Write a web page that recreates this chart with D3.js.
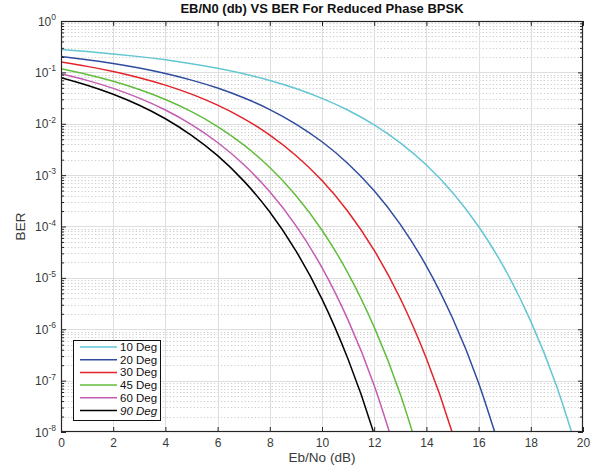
<!DOCTYPE html>
<html><head><meta charset="utf-8">
<script src="https://cdn.jsdelivr.net/npm/d3@7"></script>
<style>
body{margin:0;background:#fff;}
text{font-family:"Liberation Sans",Arial,Helvetica,sans-serif;}
</style></head>
<body><svg id="c" width="602" height="473"></svg>
<script>
// ---- data ----
const ebno = [0,1,2,3,4,5,6,7,8,9,10,11,12,13,14,15,16,17,18,19,20];
const seriesNames = ["10 Deg","20 Deg","30 Deg","45 Deg","60 Deg","90 Deg"];
const seriesColors = ["#62c6d3","#2f4c9e","#e2232a","#62bd3c","#c35cb2","#000000"];
const ber10 = [0.2779,0.2542,0.2291,0.2026,0.1752,0.1473,0.1198,0.0936,0.0694,0.0484,0.0312,0.0183,0.00948,0.00424,0.00157,0.000460,1.0e-4,1.508e-5,1.426e-6,7.51e-8,1.89e-9];
const ber20 = [0.2041,0.1767,0.1489,0.1213,0.0950,0.0707,0.0495,0.0320,0.0189,0.00987,0.00446,0.00167,0.000496,0.000110,1.697e-5,1.651e-6,9.02e-8,2.38e-9];
const ber30 = [0.1587,0.1309,0.1040,0.0789,0.0565,0.0377,0.0230,0.0126,0.00601,0.00241,0.000783,0.000194,3.43e-5,3.97e-6,2.695e-7,9.37e-9,1.40e-10];
const ber45 = [0.1172,0.0911,0.0672,0.0465,0.0297,0.0172,0.00883,0.00388,0.00141,0.000402,8.47e-5,1.224e-5,1.099e-6,5.42e-8,1.26e-9];
const ber60 = [0.0941,0.0698,0.0488,0.0315,0.0185,0.00963,0.00432,0.00161,0.000473,1.04e-4,1.58e-5,1.509e-6,8.05e-8,2.07e-9];
const ber90 = [0.0786,0.0563,0.0375,0.0229,0.0125,0.00595,0.00239,0.000773,0.000191,3.36e-5,3.87e-6,2.61e-7,9.0e-9,1.33e-10];
const seriesValues = [ber10,ber20,ber30,ber45,ber60,ber90];
const xTicks = [0,2,4,6,8,10,12,14,16,18,20];
const yExps = [0,-1,-2,-3,-4,-5,-6,-7,-8];

// ---- layout ----
const L=61, R=583, T=21, B=432;
const svg = d3.select("#c");
const x = d3.scaleLinear().domain([0,20]).range([L,R]);
const y = d3.scaleLog().domain([1e-8,1]).range([B,T]);
const axisColor="#262626";

const minors=[];
for(let e=-8;e<0;e++){for(let m=2;m<=9;m++){minors.push(m*Math.pow(10,e));}}

// grid
const g = svg.append("g");
g.selectAll(".mg").data(minors).enter().append("line")
 .attr("x1",L).attr("x2",R).attr("y1",d=>Math.round(y(d))+0.5).attr("y2",d=>Math.round(y(d))+0.5)
 .attr("stroke","#cccccc").attr("stroke-width",1).attr("stroke-dasharray","1.2,2.2");
g.selectAll(".gx").data(xTicks.slice(1,-1)).enter().append("line")
 .attr("x1",d=>Math.round(x(d))+0.5).attr("x2",d=>Math.round(x(d))+0.5).attr("y1",T).attr("y2",B)
 .attr("stroke","#dedede").attr("stroke-width",1);
g.selectAll(".gy").data(yExps.slice(1,-1)).enter().append("line")
 .attr("x1",L).attr("x2",R).attr("y1",d=>Math.round(y(Math.pow(10,d)))+0.5).attr("y2",d=>Math.round(y(Math.pow(10,d)))+0.5)
 .attr("stroke","#dedede").attr("stroke-width",1);

// curves
svg.append("clipPath").attr("id","clip").append("rect").attr("x",L).attr("y",T).attr("width",R-L).attr("height",B-T);
const line = d3.line().x(d=>x(d[0])).y(d=>y(d[1])).curve(d3.curveNatural);
const cg = svg.append("g").attr("clip-path","url(#clip)");
seriesValues.forEach((vals,i)=>{
  const pts = vals.map((v,j)=>[ebno[j],v]);
  cg.append("path").attr("d",line(pts)).attr("fill","none")
    .attr("stroke",seriesColors[i]).attr("stroke-width",1.5);
});

// axes (ticks inward)
const ax = svg.append("g").attr("color",axisColor);
ax.append("g").attr("transform",`translate(0,${B})`)
  .call(d3.axisBottom(x).tickValues(xTicks).tickSizeInner(-5).tickSizeOuter(0).tickPadding(6).tickFormat(d3.format("d")))
  .call(s=>s.select(".domain").remove());
ax.append("g").attr("transform",`translate(0,${T})`)
  .call(d3.axisTop(x).tickValues(xTicks).tickSizeInner(-5).tickSizeOuter(0).tickFormat(""))
  .call(s=>s.select(".domain").remove());
ax.append("g").attr("transform",`translate(${L},0)`)
  .call(d3.axisLeft(y).tickValues(yExps.map(e=>Math.pow(10,e))).tickSizeInner(-5).tickSizeOuter(0).tickFormat(""))
  .call(s=>s.select(".domain").remove());
ax.append("g").attr("transform",`translate(${R},0)`)
  .call(d3.axisRight(y).tickValues(yExps.map(e=>Math.pow(10,e))).tickSizeInner(-5).tickSizeOuter(0).tickFormat(""))
  .call(s=>s.select(".domain").remove());
ax.append("g").attr("transform",`translate(${L},0)`)
  .call(d3.axisLeft(y).tickValues(minors).tickSizeInner(-3).tickSizeOuter(0).tickFormat(""))
  .call(s=>s.select(".domain").remove());
ax.append("g").attr("transform",`translate(${R},0)`)
  .call(d3.axisRight(y).tickValues(minors).tickSizeInner(-3).tickSizeOuter(0).tickFormat(""))
  .call(s=>s.select(".domain").remove());
ax.selectAll(".tick text").attr("font-size",12).attr("fill","#3a3a3a").attr("font-family","Liberation Sans, Arial, sans-serif");

// y tick labels with superscripts
const ylab = svg.append("g");
yExps.forEach(e=>{
  const t = ylab.append("text").attr("x",L-5).attr("y",y(Math.pow(10,e))+4.5)
    .attr("text-anchor","end").attr("font-size",12).attr("fill","#3a3a3a");
  t.append("tspan").text("10");
  t.append("tspan").attr("dy",-5.5).attr("font-size",8.5).text(String(e));
});

// box
svg.append("rect").attr("x",L+0.5).attr("y",T+0.5).attr("width",R-L-1).attr("height",B-T-1)
  .attr("fill","none").attr("stroke",axisColor).attr("stroke-width",1.2);

// title & labels
svg.append("text").attr("x",(L+R)/2).attr("y",13).attr("text-anchor","middle")
  .attr("font-size",13).attr("font-weight","bold").attr("fill","#111")
  .text("EB/N0 (db) VS BER For Reduced Phase BPSK");
svg.append("text").attr("x",(L+R)/2).attr("y",462).attr("text-anchor","middle")
  .attr("font-size",13.5).attr("fill","#3a3a3a").text("Eb/No (dB)");
svg.append("text").attr("transform",`translate(25,${(T+B)/2}) rotate(-90)`).attr("text-anchor","middle")
  .attr("font-size",13.5).attr("fill","#3a3a3a").text("BER");

// legend
const lg = svg.append("g");
lg.append("rect").attr("x",73.5).attr("y",340.5).attr("width",87).attr("height",80)
  .attr("fill","#fff").attr("stroke","#111").attr("stroke-width",1);
seriesNames.forEach((n,i)=>{
  const yy = 347 + i*12.7;
  lg.append("line").attr("x1",80).attr("x2",117).attr("y1",yy).attr("y2",yy)
    .attr("stroke",seriesColors[i]).attr("stroke-width",1.5);
  lg.append("text").attr("x",120).attr("y",yy+4).attr("font-size",11.5).attr("fill","#111")
    .attr("font-style", i===5 ? "italic" : "normal").text(n);
});
</script></body></html>
